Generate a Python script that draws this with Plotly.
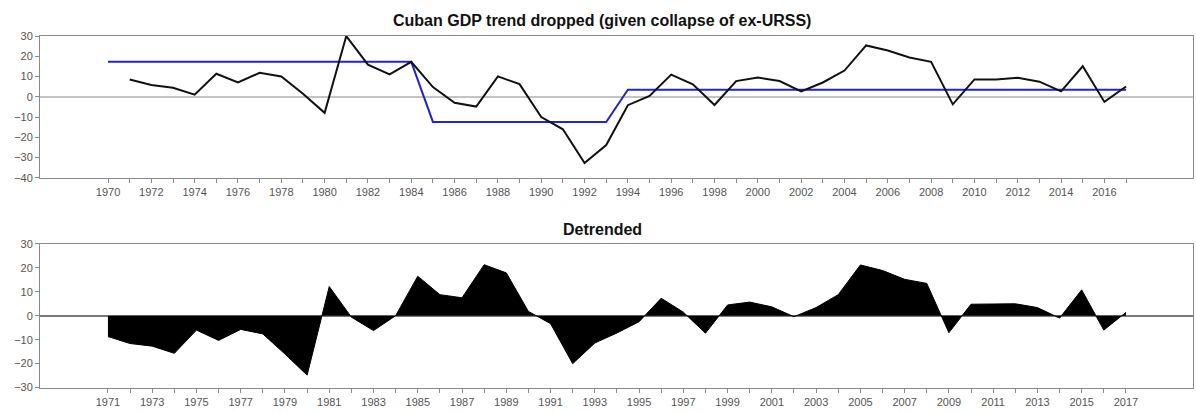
import plotly.graph_objects as go

# ---- data ----
years_gdp = list(range(1971, 2018))
gdp_growth = [8.6, 5.9, 4.5, 1.1, 11.4, 7.1, 11.9, 10.1, 1.5, -7.9,
              30.0, 15.9, 11.1, 17.3, 4.8, -2.9, -4.8, 10.1, 6.3, -10.0,
              -16.0, -32.7, -23.8, -4.1, 0.5, 11.0, 6.2, -4.0, 7.8, 9.5,
              7.8, 2.7, 7.1, 13.0, 25.4, 22.9, 19.4, 17.3, -3.7, 8.6,
              8.6, 9.4, 7.5, 2.7, 15.1, -2.5, 5.1]

years_trend = list(range(1970, 2018))
trend = [17.3] * 15 + [-12.4] * 9 + [3.5] * 24

years_det = list(range(1971, 2018))
detrended = [-8.7, -11.6, -12.7, -15.7, -6.0, -10.3, -5.7, -7.6, -16.0, -24.8,
             12.2, -0.6, -6.2, 0.0, 16.5, 8.8, 7.5, 21.3, 17.9, 1.8,
             -3.3, -20.0, -11.4, -7.2, -2.5, 7.3, 1.5, -7.3, 4.5, 5.7,
             3.7, -0.4, 3.4, 8.8, 21.2, 18.9, 15.2, 13.5, -7.1, 4.8,
             4.9, 5.0, 3.4, -1.0, 10.8, -6.0, 1.4]

top_ticks = list(range(1970, 2018))
top_ticktext = [str(y) if (y - 1970) % 2 == 0 else "" for y in top_ticks]
bot_ticks = list(range(1971, 2018))
bot_ticktext = [str(y) if (y - 1971) % 2 == 0 else "" for y in bot_ticks]

title_top = "Cuban GDP trend dropped (given collapse of ex-URSS)"
title_bot = "Detrended"

FONT = "Liberation Sans, Arial, sans-serif"
AXC = "#8a8a8a"
TXC = "#555555"
W, H = 1196, 413

fig = go.Figure()

fig.add_trace(go.Scatter(x=years_trend, y=trend, mode="lines",
                         line=dict(color="#2424cc", width=2),
                         xaxis="x", yaxis="y", showlegend=False))
fig.add_trace(go.Scatter(x=years_gdp, y=gdp_growth, mode="lines",
                         line=dict(color="#111111", width=2),
                         xaxis="x", yaxis="y", showlegend=False))
fig.add_trace(go.Scatter(x=years_det, y=detrended, mode="lines",
                         line=dict(color="#000000", width=1),
                         fill="tozeroy", fillcolor="#000000",
                         xaxis="x2", yaxis="y2", showlegend=False))

common_x = dict(showgrid=False, zeroline=False, showline=True, linecolor=AXC,
                linewidth=1, mirror=True, ticks="outside", ticklen=4,
                tickcolor=AXC, tickfont=dict(family=FONT, size=11, color=TXC))
common_y = dict(showgrid=False, showline=True, linecolor=AXC, linewidth=1,
                mirror=True, ticks="outside", ticklen=4, tickcolor=AXC,
                tickfont=dict(family=FONT, size=11, color=TXC), dtick=10)

fig.update_layout(
    width=W, height=H,
    margin=dict(l=0, r=0, t=0, b=0),
    paper_bgcolor="white", plot_bgcolor="white",
    xaxis=dict(domain=[40 / W, 1193 / W], range=[1966.86, 2020.09],
               tickmode="array", tickvals=top_ticks, ticktext=top_ticktext,
               anchor="y", **common_x),
    yaxis=dict(domain=[1 - 177 / H, 1 - 31 / H], range=[-40, 30],
               zeroline=True, zerolinecolor="#c4c4c4", zerolinewidth=2,
               anchor="x", **common_y),
    xaxis2=dict(domain=[40 / W, 1193 / W], range=[1967.93, 2020.03],
                tickmode="array", tickvals=bot_ticks, ticktext=bot_ticktext,
                anchor="y2", **common_x),
    yaxis2=dict(domain=[1 - 393 / H, 1 - 245 / H], range=[-30, 30],
                zeroline=True, zerolinecolor="#7a7a7a", zerolinewidth=1.5,
                anchor="x2", **common_y),
    annotations=[
        dict(text="<b>" + title_top + "</b>", x=602 / W, y=1 - 15 / H,
             xref="paper", yref="paper", xanchor="center", yanchor="middle",
             showarrow=False, font=dict(family=FONT, size=16, color="#111111")),
        dict(text="<b>" + title_bot + "</b>", x=602 / W, y=1 - 230 / H,
             xref="paper", yref="paper", xanchor="center", yanchor="middle",
             showarrow=False, font=dict(family=FONT, size=16, color="#111111")),
    ],
)

fig.write_html("out.html")
